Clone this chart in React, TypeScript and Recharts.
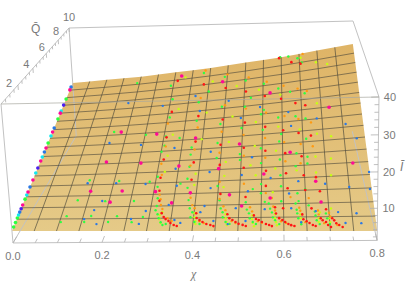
import React from 'react';
import { ComposedChart, XAxis, YAxis, Area, Line, Scatter } from 'recharts';

const WIDTH = 409;
const HEIGHT = 291;

// mesh positions
const meshChi = [0, 0.05, 0.1, 0.15, 0.2, 0.25, 0.3, 0.35, 0.4, 0.45, 0.5, 0.55, 0.6, 0.65, 0.7, 0.75, 0.8];
const meshQ = [0, 0.625, 1.25, 1.875, 2.5, 3.125, 3.75, 4.375, 5, 5.625, 6.25, 6.875, 7.5, 8.125, 8.75, 9.375, 10];

// surface height, one row per meshQ, columns at these chi values
const knotChi = [0, 0.2, 0.4, 0.6, 0.8];
const surfaceI = [
  [4.47, 4.26, 4.06, 3.85, 3.64],
  [5.46, 5.38, 5.35, 5.36, 5.42],
  [6.46, 6.5, 6.64, 6.87, 7.19],
  [7.45, 7.61, 7.93, 8.38, 8.97],
  [8.44, 8.73, 9.22, 9.89, 10.75],
  [9.44, 9.85, 10.51, 11.41, 12.52],
  [10.43, 10.97, 11.8, 12.92, 14.3],
  [11.42, 12.09, 13.1, 14.43, 16.07],
  [12.42, 13.21, 14.39, 15.94, 17.85],
  [13.41, 14.32, 15.68, 17.45, 19.63],
  [14.4, 15.44, 16.97, 18.96, 21.4],
  [15.39, 16.56, 18.26, 20.47, 23.18],
  [16.39, 17.68, 19.55, 21.98, 24.96],
  [17.38, 18.8, 20.84, 23.49, 26.73],
  [18.37, 19.91, 22.13, 25, 28.51],
  [19.37, 21.03, 23.42, 26.51, 30.28],
  [20.36, 22.15, 24.71, 28.02, 32.06],
];

// points sitting on the chi = 0 edge, by colour (Q values)
const edgeMagentaQ = [9.4, 7.5, 6.08, 4.95, 4.08, 2.88, 2.16, 1.41];
const edgeBlueQ = [9.65, 6.37, 4.68, 2.45, 1.01];
const edgeGreenQ = [8.63, 7.05, 5.3, 1.74, 0.69, 0.45, 0.21];
const edgeCyanQ = [7.67, 5.79, 4.34, 3.31, 1.98, 0.85];
const edgePurpleQ = [8.14, 3.63, 1.2];

// [chi, Q]
const magentaPts = [
  [0.319, 9.64], [0.438, 8.79], [0.569, 7.57], [0.72, 6.22], [0.185, 5.8], [0.28, 5.5], [0.382, 5.08], [0.494, 4.52],
  [0.618, 3.86], [0.764, 3.1], [0.168, 3.86], [0.255, 3.7], [0.35, 3.42], [0.447, 3.17], [0.555, 2.77], [0.675, 2.29],
  [0.15, 2.13], [0.225, 2.1], [0.304, 2.02], [0.386, 1.91], [0.477, 1.75], [0.57, 1.54], [0.203, 1.5], [0.346, 1.4],
  [0.506, 1.18], [0.684, 1.29],
];

const bluePts = [
  [0.183, 7.91], [0.281, 7.46], [0.367, 7.96], [0.384, 6.85], [0.459, 7.35], [0.543, 6.71], [0.616, 6.2], [0.687, 5.64],
  [0.757, 5.16], [0.494, 6.12], [0.622, 5.35], [0.78, 4.34], [0.162, 5.09], [0.245, 4.85], [0.332, 4.53], [0.424, 4.17],
  [0.526, 3.71], [0.343, 3.27], [0.426, 3.01], [0.503, 2.77], [0.571, 2.55], [0.635, 2.33], [0.696, 2.15], [0.75, 1.95],
  [0.796, 1.83], [0.799, 2.62], [0.137, 2.6], [0.206, 2.56], [0.277, 2.46], [0.352, 2.31], [0.432, 2.13], [0.519, 1.91],
  [0.613, 1.74], [0.184, 1.57], [0.34, 1.3], [0.422, 1.21], [0.493, 1.08], [0.558, 1.01], [0.617, 1.03], [0.671, 0.88],
  [0.72, 0.82], [0.76, 0.76], [0.171, 1.08], [0.29, 1.0], [0.414, 0.91], [0.154, 0.61], [0.26, 0.6], [0.358, 0.53],
  [0.372, 0.39], [0.445, 0.47], [0.516, 0.46], [0.185, 0.35], [0.28, 0.35], [0.477, 0.32], [0.638, 0.39], [0.734, 0.34],
  [0.768, 0.33],
];

const greenPts = [
  [0.193, 9.48], [0.293, 8.95], [0.382, 9.67], [0.443, 9.14], [0.502, 8.65], [0.552, 8.25], [0.591, 7.8], [0.622, 7.48],
  [0.66, 7.26], [0.597, 10], [0.62, 9.95], [0.645, 9.7], [0.656, 9.35], [0.305, 7.88], [0.402, 8.2], [0.518, 7.39],
  [0.378, 7.48], [0.442, 7.0], [0.503, 6.83], [0.553, 6.5], [0.306, 6.58], [0.379, 6.2], [0.442, 5.85], [0.497, 5.48],
  [0.551, 5.26], [0.597, 4.93], [0.658, 4.54], [0.252, 5.5], [0.166, 5.84], [0.305, 5.3], [0.341, 5.15], [0.439, 4.67],
  [0.496, 3.93], [0.547, 4.19], [0.592, 4.51], [0.633, 3.78], [0.659, 3.56], [0.306, 4.71], [0.375, 4.5], [0.301, 4.34],
  [0.375, 4.07], [0.44, 3.78], [0.497, 3.6], [0.548, 3.36], [0.593, 3.5], [0.658, 3.2], [0.634, 5.9], [0.659, 5.7],
  [0.59, 5.93], [0.546, 6.24], [0.303, 2.85], [0.286, 2.58], [0.376, 3.36], [0.375, 2.68], [0.36, 2.42], [0.448, 2.23],
  [0.53, 2.01], [0.549, 2.25], [0.595, 2.11], [0.65, 1.92], [0.632, 1.74], [0.549, 1.79], [0.558, 1.36], [0.595, 1.37],
  [0.634, 1.36], [0.656, 1.15], [0.63, 3.1], [0.594, 2.67], [0.14, 2.77], [0.212, 2.68], [0.126, 1.63], [0.191, 1.56],
  [0.258, 1.54], [0.112, 0.77], [0.168, 0.77], [0.227, 0.75], [0.286, 0.7], [0.103, 0.46], [0.156, 0.46], [0.21, 0.45],
  [0.263, 0.44], [0.307, 2.28], [0.378, 2.18],
  // hooks along the front
  [0.312, 1.66], [0.313, 1.25], [0.312, 1.03], [0.318, 0.83], [0.322, 0.63], [0.328, 0.43], [0.333, 0.29], [0.34, 0.34],
  [0.389, 1.11], [0.396, 0.91], [0.393, 0.66], [0.403, 0.43], [0.415, 0.33], [0.384, 1.53],
  [0.459, 1.08], [0.464, 0.89], [0.465, 0.65], [0.472, 0.42], [0.481, 0.33], [0.455, 1.49],
  [0.518, 1.0], [0.523, 0.82], [0.525, 0.59], [0.532, 0.41], [0.539, 0.32], [0.515, 1.36],
  [0.57, 1.03], [0.574, 0.85], [0.576, 0.62], [0.59, 0.31], [0.581, 0.49], [0.567, 1.28],
  [0.629, 0.96], [0.63, 0.79], [0.632, 0.57], [0.638, 0.3], [0.627, 1.25],
  [0.669, 0.86], [0.67, 0.68], [0.672, 0.47], [0.678, 0.3],
  [0.693, 0.77], [0.695, 0.55], [0.7, 0.3],
];

const redPts = [
  [0.31, 9.28], [0.386, 8.77], [0.448, 8.3], [0.504, 7.86], [0.555, 7.4], [0.598, 7.1], [0.635, 6.71], [0.66, 6.5],
  [0.594, 9.95], [0.628, 9.5], [0.653, 9.28], [0.309, 6.96], [0.382, 6.51], [0.447, 6.13], [0.505, 5.8], [0.557, 5.43],
  [0.602, 5.14], [0.64, 4.9], [0.67, 4.69], [0.307, 5.24], [0.383, 4.85], [0.447, 4.55], [0.505, 4.28], [0.558, 4.03],
  [0.606, 3.83], [0.645, 3.6], [0.31, 3.85], [0.385, 3.6], [0.449, 3.38], [0.507, 3.15], [0.56, 2.93], [0.607, 2.76],
  [0.648, 2.61], [0.676, 2.49], [0.31, 2.79], [0.385, 2.62], [0.56, 2.15], [0.61, 2.0], [0.65, 1.88], [0.683, 1.8],
  [0.313, 2.06], [0.456, 1.81], [0.514, 1.62], [0.317, 1.52], [0.581, 1.09], [0.599, 1.04], [0.662, 1.01], [0.694, 0.96],
  // hooks along the front
  [0.365, 0.24], [0.358, 0.29], [0.35, 0.39], [0.345, 0.49], [0.338, 0.58], [0.333, 0.68], [0.327, 0.88],
  [0.446, 0.23], [0.439, 0.28], [0.43, 0.33], [0.421, 0.43], [0.414, 0.52], [0.407, 0.62], [0.405, 0.86],
  [0.517, 0.23], [0.51, 0.28], [0.501, 0.33], [0.494, 0.42], [0.487, 0.51], [0.48, 0.6], [0.475, 0.79],
  [0.574, 0.22], [0.568, 0.27], [0.561, 0.32], [0.552, 0.41], [0.545, 0.5], [0.539, 0.55], [0.534, 0.72],
  [0.623, 0.22], [0.616, 0.26], [0.61, 0.31], [0.603, 0.4], [0.597, 0.49], [0.59, 0.58], [0.583, 0.8],
  [0.669, 0.22], [0.663, 0.26], [0.656, 0.35], [0.65, 0.43], [0.643, 0.52], [0.641, 0.74],
  [0.702, 0.17], [0.696, 0.26], [0.692, 0.39], [0.685, 0.47], [0.681, 0.56],
  [0.727, 0.17], [0.72, 0.26], [0.714, 0.33], [0.71, 0.46], [0.706, 0.55],
];

const orangePts = [
  [0.66, 9.95], [0.386, 9.85], [0.45, 9.3], [0.51, 8.85], [0.56, 8.37], [0.605, 7.94], [0.642, 7.62], [0.666, 7.39],
  [0.304, 6.17], [0.384, 5.75], [0.447, 5.35], [0.503, 5.05], [0.557, 4.77], [0.604, 4.45], [0.644, 4.27], [0.673, 4.1],
  [0.309, 4.66], [0.383, 4.37], [0.446, 4.08], [0.506, 3.82], [0.558, 3.64], [0.606, 3.39], [0.642, 3.24], [0.306, 3.6],
  [0.378, 3.42], [0.382, 7.78], [0.45, 7.08], [0.506, 6.7], [0.559, 6.3], [0.606, 5.99], [0.641, 5.72], [0.672, 5.44],
  [0.312, 2.95], [0.452, 2.45], [0.509, 2.3], [0.56, 1.79], [0.388, 1.65], [0.455, 1.56], [0.315, 1.85], [0.574, 1.54],
  [0.616, 1.56], [0.657, 1.49],
  // hooks along the front
  [0.322, 1.3], [0.327, 1.09], [0.342, 0.63], [0.352, 0.49], [0.319, 1.61],
  [0.394, 1.27], [0.4, 1.11], [0.414, 0.47], [0.424, 0.38],
  [0.465, 1.18], [0.47, 0.99], [0.485, 0.46], [0.494, 0.37],
  [0.525, 1.11], [0.53, 0.91], [0.543, 0.45], [0.552, 0.37],
  [0.577, 1.13], [0.581, 0.94], [0.594, 0.44], [0.605, 0.36],
  [0.635, 1.05], [0.637, 0.91], [0.647, 0.39],
  [0.676, 0.91], [0.677, 0.73], [0.688, 0.34],
  [0.716, 0.26], [0.7, 0.8], [0.702, 0.63],
];

const yellowPts = [
  [0.331, 9.49], [0.654, 9.7], [0.695, 9.2], [0.725, 8.95], [0.41, 8.92], [0.478, 8.34], [0.539, 7.88], [0.596, 7.38],
  [0.69, 6.54], [0.326, 7.13], [0.403, 6.7], [0.472, 6.27], [0.533, 5.78], [0.59, 5.38], [0.643, 5.1], [0.685, 4.77],
  [0.719, 4.56], [0.322, 5.39], [0.398, 4.98], [0.467, 4.69], [0.532, 4.34], [0.584, 4.0], [0.678, 3.54], [0.714, 3.39],
  [0.318, 4.07], [0.463, 3.53], [0.523, 3.27], [0.582, 3.03], [0.632, 2.88], [0.677, 2.72], [0.711, 2.55], [0.318, 3.12],
  [0.393, 2.94], [0.462, 2.76], [0.536, 2.72], [0.393, 2.33], [0.462, 2.16], [0.576, 1.82],
  // hooks along the front
  [0.323, 0.785], [0.324, 0.58], [0.328, 0.39], [0.328, 0.93],
  [0.401, 0.86], [0.402, 0.66], [0.405, 0.47], [0.406, 0.33],
  [0.471, 0.79], [0.472, 0.6], [0.474, 0.42], [0.475, 0.28],
  [0.53, 0.72], [0.53, 0.55], [0.532, 0.37], [0.535, 0.22],
  [0.581, 0.76], [0.581, 0.58], [0.583, 0.4], [0.585, 0.26],
  [0.637, 0.74], [0.637, 0.57], [0.639, 0.39],
  [0.677, 0.56], [0.676, 0.39], [0.68, 0.82],
  [0.699, 0.55], [0.701, 0.38], [0.705, 0.99],
];

// axis ticks
const xTicks = [0, 0.2, 0.4, 0.6, 0.8];
const xMinorTicks = [0, 0.05, 0.1, 0.15, 0.2, 0.25, 0.3, 0.35, 0.4, 0.45, 0.5, 0.55, 0.6, 0.65, 0.7, 0.75, 0.8];
const qTicks = [2, 4, 6, 8, 10];
const qMinorTicks = [0.5, 1, 1.5, 2, 2.5, 3, 3.5, 4, 4.5, 5, 5.5, 6, 6.5, 7, 7.5, 8, 8.5, 9, 9.5, 10];
const iTicks = [10, 20, 30, 40];
const iMinorTicks = [2, 4, 6, 8, 10, 12, 14, 16, 18, 20, 22, 24, 26, 28, 30, 32, 34, 36, 38, 40];

const CHI_MAX = 0.8;
const Q_MAX = 10;
const I_MIN = 1;
const I_MAX = 40;

// perspective of the 3D box onto the flat chart plane
const project = (chi: number, q: number, i: number) => {
  const u = chi / CHI_MAX;
  const v = q / Q_MAX;
  const t = (I_MAX - i) / (I_MAX - I_MIN);
  const d = 1 - 0.0302 * u + 0.3282 * v + 0.038 * t;
  return {
    sx: (366.55 * u + 90.65 * v + 1 + 12.5 * t) / d,
    sy: (-9.93 * u - 66.81 * v + 104 + 148.2 * t) / d,
  };
};

const surfaceAt = (chi: number, q: number) => {
  const qPos = Math.min((q / Q_MAX) * (meshQ.length - 1), meshQ.length - 1.001);
  const r = Math.floor(qPos);
  const cPos = Math.min((chi / CHI_MAX) * (knotChi.length - 1), knotChi.length - 1.001);
  const c = Math.floor(cPos);
  const fr = qPos - r;
  const fc = cPos - c;
  const low = surfaceI[r][c] * (1 - fc) + surfaceI[r][c + 1] * fc;
  const high = surfaceI[r + 1][c] * (1 - fc) + surfaceI[r + 1][c + 1] * fc;
  return low * (1 - fr) + high * fr;
};

const onSurface = (chi: number, q: number) => project(chi, q, surfaceAt(chi, q));
const toDots = (pts: number[][]) => pts.map(([chi, q]) => onSurface(chi, q));
const edgeDots = (qs: number[]) => qs.map((q) => onSurface(0, q));

const frontY = onSurface(0, 0).sy;
const outline = [
  ...meshQ.map((q) => onSurface(0, q)),
  ...meshChi.slice(1).map((chi) => onSurface(chi, Q_MAX)),
  ...meshQ.slice(0, -1).reverse().map((q) => onSurface(CHI_MAX, q)),
].map((p) => ({ sx: p.sx, band: [frontY, p.sy] }));

const rowLines = surfaceI.map((row, r) => knotChi.map((chi, c) => project(chi, meshQ[r], row[c])));
const colLines = meshChi.map((chi) => [onSurface(chi, 0), onSurface(chi, Q_MAX)]);

const edge = (a: number[], b: number[]) => [project(a[0], a[1], a[2]), project(b[0], b[1], b[2])];
const boxBack = [
  edge([0, 10, I_MAX], [CHI_MAX, 10, I_MAX]),
  edge([0, 0, I_MAX], [0, 10, I_MAX]),
  edge([CHI_MAX, 0, I_MAX], [CHI_MAX, 10, I_MAX]),
  edge([0, 10, I_MAX], [0, 10, I_MIN]),
  edge([0, 0, I_MIN], [0, 10, I_MIN]),
  edge([CHI_MAX, 0, I_MIN], [CHI_MAX, 10, I_MIN]),
  edge([0, 0, I_MAX], [0, 0, I_MIN]),
  edge([0, 0, I_MIN], [CHI_MAX, 0, I_MIN]),
  edge([CHI_MAX, 0, I_MAX], [CHI_MAX, 0, I_MIN]),
];
const boxFront = edge([0, 0, I_MAX], [CHI_MAX, 0, I_MAX]);

const tickLines = [
  ...xMinorTicks.map((chi) => edge([chi, 0, I_MIN], [chi, xTicks.includes(chi) ? 0.45 : 0.28, I_MIN])),
  ...qMinorTicks.map((q) => edge([0, q, I_MAX], [0, q, qTicks.includes(q) ? I_MAX - 1.4 : I_MAX - 0.9])),
  ...iMinorTicks.map((i) => edge([CHI_MAX, 0, i], [iTicks.includes(i) ? CHI_MAX - 0.016 : CHI_MAX - 0.009, 0, i])),
];

const shift = (p: { sx: number; sy: number }, dx: number, dy: number, label: string) => ({
  sx: p.sx + dx,
  sy: p.sy + dy,
  label,
});
const axisLabels = [
  ...xTicks.map((chi) => shift(project(chi, 0, I_MIN), 0, 13, chi.toFixed(1))),
  ...qTicks.map((q) => shift(project(0, q, I_MAX), -11 + q * 1.1, -q * 1.1, String(q))),
  ...iTicks.map((i) => shift(project(CHI_MAX, 0, i), 11, 0, String(i))),
];

const textProps = { fontFamily: '"Liberation Sans", Arial, sans-serif', fill: '#7a7a7a', fontSize: 11 };

const TickText = (props: any) => (
  <text x={props.cx} y={props.cy} textAnchor="middle" dominantBaseline="central" {...textProps}>
    {props.payload.label}
  </text>
);

const dot = (r: number, fill: string) => (props: any) => <circle cx={props.cx} cy={props.cy} r={r} fill={fill} />;

const series = [
  { name: 'yellow', data: toDots(yellowPts), r: 1.2, color: '#c6ff14' },
  { name: 'green', data: toDots(greenPts), r: 1.2, color: '#2cff40' },
  { name: 'orange', data: toDots(orangePts), r: 1.2, color: '#ff9a12' },
  { name: 'blue', data: toDots(bluePts), r: 1.2, color: '#2a78e4' },
  { name: 'red', data: toDots(redPts), r: 1.3, color: '#ff1616' },
  { name: 'magenta', data: toDots(magentaPts), r: 1.8, color: '#ff0a96' },
  { name: 'edgeGreen', data: edgeDots(edgeGreenQ), r: 1.8, color: '#2cff40' },
  { name: 'edgeCyan', data: edgeDots(edgeCyanQ), r: 1.8, color: '#12e8f0' },
  { name: 'edgeBlue', data: edgeDots(edgeBlueQ), r: 1.8, color: '#2a78e4' },
  { name: 'edgePurple', data: edgeDots(edgePurpleQ), r: 1.8, color: '#4a1ef0' },
  { name: 'edgeMagenta', data: edgeDots(edgeMagentaQ), r: 1.8, color: '#ff0a96' },
];

const lineProps = { dataKey: 'sy', dot: false, activeDot: false, isAnimationActive: false };

export default function App() {
  return (
    <div style={{ position: 'absolute', left: 0, top: 0, width: WIDTH, height: HEIGHT }}>
      <ComposedChart width={WIDTH} height={HEIGHT} margin={{ top: 0, right: 0, bottom: 0, left: 0 }}>
        <defs>
          <linearGradient id="surfaceFill" x1="0" y1="0" x2="0" y2="1">
            <stop offset="0%" stopColor="#dfb466" />
            <stop offset="100%" stopColor="#e5ca88" />
          </linearGradient>
        </defs>
        <XAxis type="number" dataKey="sx" domain={[0, WIDTH]} allowDataOverflow hide />
        <YAxis type="number" dataKey="sy" domain={[0, HEIGHT]} allowDataOverflow reversed hide />

        {boxBack.map((d, i) => (
          <Line key={`box-${i}`} data={d} type="linear" stroke="#c2c2c2" strokeWidth={1} {...lineProps} />
        ))}
        {tickLines.map((d, i) => (
          <Line key={`tick-${i}`} data={d} type="linear" stroke="#b0b0b0" strokeWidth={0.8} {...lineProps} />
        ))}

        <Area data={outline} dataKey="band" type="linear" stroke="none" fill="url(#surfaceFill)" fillOpacity={1} dot={false} activeDot={false} isAnimationActive={false} />

        {rowLines.map((d, i) => (
          <Line key={`row-${i}`} data={d} type="monotoneX" stroke="#4e4a3c" strokeOpacity={i === 0 || i === 16 ? 0 : 0.7} strokeWidth={0.9} {...lineProps} />
        ))}
        {colLines.map((d, i) => (
          <Line key={`col-${i}`} data={d} type="linear" stroke="#4e4a3c" strokeOpacity={i === 0 || i === 16 ? 0 : 0.75} strokeWidth={0.9} {...lineProps} />
        ))}
        <Line data={boxFront} type="linear" stroke="#a8a8a0" strokeOpacity={0.7} strokeWidth={1} {...lineProps} />

        {series.map((s) => (
          <Scatter key={s.name} data={s.data} shape={dot(s.r, s.color)} isAnimationActive={false} />
        ))}

        <Scatter data={axisLabels} shape={TickText} isAnimationActive={false} />
      </ComposedChart>
      <div style={{ position: 'absolute', left: 31, top: 22, color: '#7a7a7a', font: '12px "Liberation Sans", Arial, sans-serif' }}>Q̄</div>
      <div style={{ position: 'absolute', left: 191, top: 267, color: '#7a7a7a', font: 'italic 12px "Liberation Serif", serif' }}>χ</div>
      <div style={{ position: 'absolute', left: 400, top: 160, color: '#7a7a7a', font: 'italic 12px "Liberation Sans", Arial, sans-serif' }}>Ī</div>
    </div>
  );
}
